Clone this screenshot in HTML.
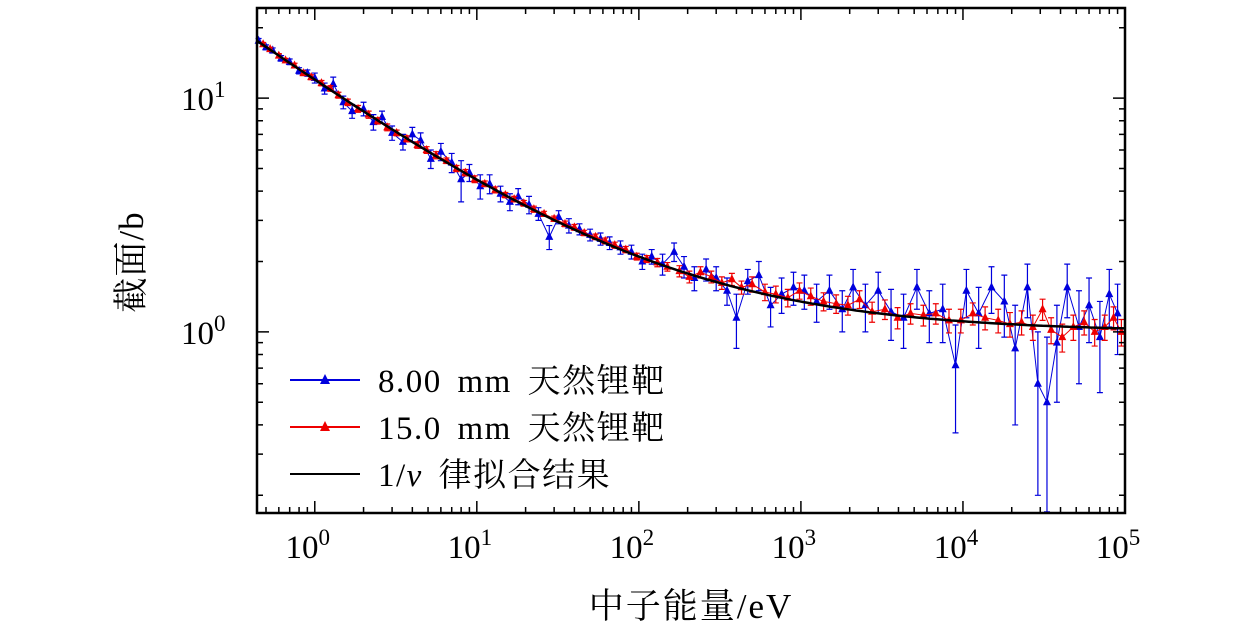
<!DOCTYPE html>
<html><head><meta charset="utf-8"><style>
body{margin:0;background:#fff}
svg{display:block}
text{font-family:"Liberation Serif","Noto Serif CJK SC",serif;fill:#000}
</style></head><body>
<svg id="chart" width="1260" height="638" viewBox="0 0 1260 638">
<g id="marks"></g>
<rect x="257" y="8" width="868" height="505" fill="none" stroke="#000" stroke-width="2.5"/>
<g id="axes"></g>
<text transform="translate(143,262) rotate(-90)" text-anchor="middle" font-size="35" letter-spacing="1">截面/b</text>
<text x="691" y="618" text-anchor="middle" font-size="35" letter-spacing="2">中子能量/eV</text>
<g>
<g><line x1="290" y1="380" x2="360" y2="380" stroke="#0000dd" stroke-width="2"/><polygon points="325,374 320,384 330,384" fill="#0000dd"/><text x="378" y="392" font-size="33" letter-spacing="1.5" word-spacing="6">8.00 mm 天然锂靶</text></g>
<g><line x1="290" y1="427" x2="360" y2="427" stroke="#ee0000" stroke-width="2"/><polygon points="325,421 320,431 330,431" fill="#ee0000"/><text x="378" y="439" font-size="33" letter-spacing="1.5" word-spacing="6">15.0 mm 天然锂靶</text></g>
<g><line x1="290" y1="474" x2="360" y2="474" stroke="#000" stroke-width="2"/><text x="378" y="486" font-size="33" letter-spacing="1.5" word-spacing="6">1/<tspan font-style="italic">v</tspan> 律拟合结果</text></g>
</g>
</svg>
<script>
const blueE=[0.45,0.5,0.55,0.62,0.7,0.8,0.9,1.0,1.15,1.3,1.5,1.7,2.0,2.3,2.6,3.0,3.5,4.0,4.5,5.2,6,7,8,9,10.5,12,14,16,18,21,24,28,32,37,43,50,58,66,77,90,105,120,140,165,190,220,260,300,350,400,470,550,650,760,900,1050,1250,1500,1800,2100,2500,3000,3600,4300,5200,6200,7500,9000,10500,12500,15000,18000,21000,25000,29000,33000,38000,44000,52000,60000,70000,80000,90000];
const blueV=[17.6,16.5,16.0,14.8,14.3,13.1,12.8,12.2,11.0,11.5,9.6,8.8,9.0,7.9,8.3,7.1,6.5,7.0,6.6,5.5,5.9,5.3,4.5,4.8,4.2,4.3,3.9,3.6,3.8,3.5,3.2,2.55,3.1,2.85,2.75,2.6,2.5,2.4,2.3,2.2,2.0,2.1,1.95,2.2,1.9,1.7,1.85,1.7,1.5,1.15,1.65,1.75,1.3,1.45,1.55,1.5,1.35,1.5,1.25,1.55,1.3,1.5,1.22,1.15,1.55,1.2,1.25,0.72,1.5,1.2,1.55,1.35,0.85,1.55,0.6,0.5,0.9,1.55,1.05,1.3,0.95,1.45,1.2];
const blueErr=[0.4,0.4,0.4,0.4,0.4,0.4,0.4,0.6,0.6,0.8,0.6,0.6,0.6,0.6,0.5,0.5,0.5,0.5,0.5,0.5,0.5,0.5,0.9,0.4,0.5,0.4,0.3,0.3,0.3,0.3,0.2,0.3,0.2,0.2,0.15,0.15,0.15,0.15,0.15,0.15,0.15,0.15,0.2,0.2,0.2,0.2,0.2,0.2,0.2,0.3,0.2,0.25,0.25,0.25,0.25,0.25,0.25,0.25,0.25,0.3,0.3,0.3,0.3,0.3,0.3,0.3,0.35,0.35,0.35,0.35,0.35,0.4,0.45,0.4,0.4,0.45,0.4,0.4,0.45,0.4,0.4,0.4,0.4];
const redE=[0.48,0.53,0.6,0.66,0.75,0.85,0.95,1.1,1.25,1.4,1.6,1.85,2.15,2.45,2.8,3.2,3.7,4.3,4.9,5.6,6.5,7.5,8.5,9.7,11.2,13,15,17,19.5,22.5,26,30,35,40,46,54,62,71,83,97,112,130,150,178,205,240,280,325,375,430,500,600,700,830,980,1150,1380,1650,1950,2300,2750,3300,3950,4750,5700,6800,8200,9700,11500,13700,16500,19500,23000,27000,31000,35000,41000,48000,56000,65000,75000,85000,95000];
const redV=[17.0,16.2,15.2,14.5,13.8,12.8,12.3,11.6,11.0,10.3,9.6,9.0,8.5,8.0,7.5,7.1,6.7,6.3,6.0,5.7,5.4,5.0,4.8,4.5,4.3,4.05,3.85,3.7,3.55,3.35,3.2,3.05,2.9,2.8,2.65,2.55,2.45,2.35,2.25,2.1,2.05,1.98,1.9,1.82,1.72,1.8,1.72,1.62,1.68,1.55,1.6,1.48,1.45,1.40,1.5,1.42,1.35,1.32,1.3,1.38,1.22,1.25,1.15,1.2,1.18,1.2,1.12,1.12,1.2,1.15,1.12,1.08,1.1,1.05,1.25,1.02,0.95,1.05,1.1,1.0,1.05,1.15,1.0];
const redErr=[0.3,0.3,0.3,0.3,0.3,0.3,0.3,0.3,0.3,0.3,0.3,0.3,0.3,0.25,0.25,0.2,0.2,0.2,0.2,0.2,0.15,0.15,0.15,0.15,0.12,0.12,0.1,0.1,0.1,0.1,0.08,0.08,0.08,0.08,0.07,0.07,0.07,0.07,0.07,0.07,0.07,0.08,0.08,0.1,0.1,0.1,0.1,0.1,0.1,0.1,0.12,0.12,0.12,0.12,0.12,0.12,0.12,0.12,0.12,0.12,0.12,0.12,0.12,0.12,0.12,0.12,0.13,0.13,0.13,0.13,0.13,0.13,0.13,0.13,0.13,0.13,0.13,0.13,0.13,0.13,0.13,0.13,0.13];
const fitA=11, fitB=1.0;
const xTickExp=[0,1,2,3,4,5];
const yTickExp=[0,1];

const NS="http://www.w3.org/2000/svg";
const X0=257,X1=1125,Y0=8,Y1=513;
const xMinL=Math.log10(0.44),xMaxL=5;
const yMinL=Math.log10(0.168),yMaxL=Math.log10(24.3);
const sx=e=>X0+(Math.log10(e)-xMinL)/(xMaxL-xMinL)*(X1-X0);
const sy=v=>Y1-(Math.log10(v)-yMinL)/(yMaxL-yMinL)*(Y1-Y0);
const clampY=y=>Math.max(Y0,Math.min(Y1,y));
function mk(tag,attrs,parent){const el=document.createElementNS(NS,tag);for(const k in attrs)el.setAttribute(k,attrs[k]);parent.appendChild(el);return el;}
const marks=document.getElementById('marks'), axes=document.getElementById('axes');

function series(E,V,Err,color,name){
  const g=mk('g',{},marks);
  
  
  let d='';
  E.forEach((e,i)=>{const x=sx(e),y=sy(V[i]);d+=(i?'L':'M')+x.toFixed(1)+','+y.toFixed(1);});
  const ln=mk('path',{d:d,fill:'none',stroke:color,'stroke-width':1},g);
  
  
  E.forEach((e,i)=>{
    const x=sx(e),lo=Math.max(V[i]-Err[i],0.17),hi=V[i]+Err[i];
    const ya=clampY(sy(hi)),yb=clampY(sy(lo));
    const eb=mk('path',{d:`M${x},${ya}V${yb}M${x-3},${ya}h6M${x-3},${yb}h6`,stroke:color,'stroke-width':1.2,fill:'none'},g);
    
    
    const y=sy(V[i]);
    const p=mk('polygon',{points:`${x},${y-5} ${x-4},${y+3} ${x+4},${y+3}`,fill:color},g);
    
    
  });
}
series(blueE,blueV,blueErr,'#0000dd','series-8mm');
series(redE,redV,redErr,'#ee0000','series-15mm');

let fd='';
for(let i=0;i<=200;i++){const l=xMinL+(xMaxL-xMinL)*i/200,e=Math.pow(10,l);const v=fitA/Math.sqrt(e)+fitB;fd+=(i?'L':'M')+sx(e).toFixed(1)+','+sy(v).toFixed(1);}
const fit=mk('path',{d:fd,fill:'none',stroke:'#000','stroke-width':2.5},marks);



for(let ex=-1;ex<=5;ex++){for(let m=1;m<10;m++){const e=m*Math.pow(10,ex);if(e<0.44||e>1e5)continue;const x=sx(e);const L=m===1?12:6;
  const t=mk('path',{d:`M${x},${Y1}v${-L}M${x},${Y0}v${L}`,stroke:'#000','stroke-width':1.5},axes);
  
  }}
xTickExp.forEach(ex=>{const x=sx(Math.pow(10,ex));
  const t=mk('text',{x:x-7,y:558,'text-anchor':'middle','font-size':33},axes);
  
  
  t.textContent='10';
  const s=mk('tspan',{dy:-13,'font-size':23},t);s.textContent=String(ex);});
for(let ex=-1;ex<=1;ex++){for(let m=1;m<10;m++){const v=m*Math.pow(10,ex);if(v<0.168||v>24.3)continue;const y=sy(v);const L=m===1?12:6;
  const t=mk('path',{d:`M${X0},${y}h${L}M${X1},${y}h${-L}`,stroke:'#000','stroke-width':1.5},axes);
  
  }}
yTickExp.forEach(ex=>{const y=sy(Math.pow(10,ex));
  const t=mk('text',{x:181,y:y+12,'font-size':33},axes);
  
  
  t.textContent='10';
  const s=mk('tspan',{dy:-13,'font-size':23},t);s.textContent=String(ex);});
</script>
</body></html>
